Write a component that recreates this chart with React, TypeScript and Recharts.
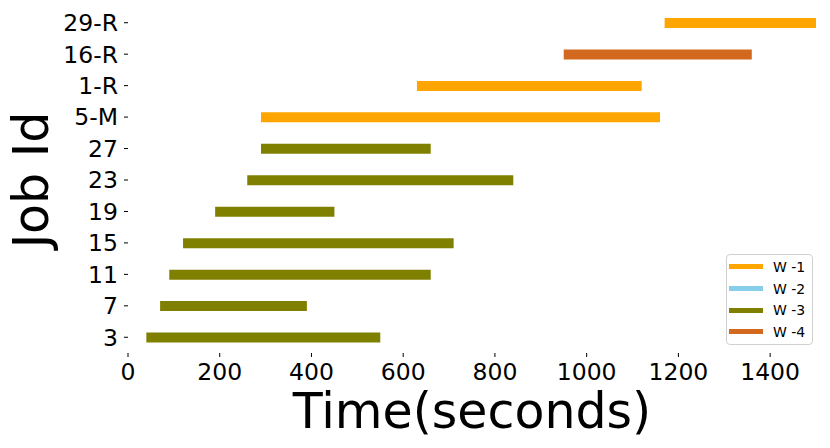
import { BarChart, Bar, XAxis, YAxis, Cell } from 'recharts';

const jobIds = ['29-R', '16-R', '1-R', '5-M', '27', '23', '19', '15', '11', '7', '3'];
const startTimes = [1170, 950, 630, 290, 290, 260, 190, 120, 90, 70, 40];
const endTimes = [1500, 1360, 1120, 1160, 660, 840, 450, 710, 660, 390, 550];
const jobWorker = [0, 3, 0, 0, 2, 2, 2, 2, 2, 2, 2];

const workerNames = ['W -1', 'W -2', 'W -3', 'W -4'];
const workerColors = ['#FFA500', '#87CEEB', '#808000', '#D2691E'];

const timeTicks = [0, 200, 400, 600, 800, 1000, 1200, 1400];

const font = 'DejaVu Sans, sans-serif';

const data = jobIds.map((id, i) => ({
  id,
  span: [startTimes[i], endTimes[i]],
  worker: jobWorker[i],
}));

// legend sits over the plot, like matplotlib's loc='lower right'
const LegendBox = () => (
  <div
    style={{
      position: 'absolute',
      left: 726,
      top: 254,
      width: 85,
      height: 89,
      border: '1px solid #d0d0d0',
      borderRadius: 4,
      background: 'rgba(255,255,255,0.8)',
      fontFamily: font,
      fontSize: 14,
    }}
  >
    {workerNames.map((name, i) => (
      <div
        key={name}
        style={{ display: 'flex', alignItems: 'center', height: 21.7, marginTop: i === 0 ? 1 : 0 }}
      >
        <div style={{ width: 34, height: 5, background: workerColors[i], marginLeft: 2, marginRight: 10 }} />
        <span style={{ color: '#000', lineHeight: '14px' }}>{name}</span>
      </div>
    ))}
  </div>
);

export default function App() {
  return (
    <div style={{ width: 830, height: 448, position: 'relative' }}>
      <style>{'body{margin:0}'}</style>
      <BarChart
        width={830}
        height={448}
        data={data}
        layout="vertical"
        margin={{ top: 7, right: 14, bottom: 0, left: 0 }}
        barCategoryGap={0}
      >
        <XAxis
          type="number"
          domain={[0, 1500]}
          ticks={timeTicks}
          allowDataOverflow
          axisLine={false}
          tickLine={{ stroke: '#000' }}
          tickSize={4}
          tickMargin={6}
          height={95}
          tick={{ fill: '#000', fontSize: 23.5, fontFamily: font }}
          label={(props: any) => {
            const vb = props.viewBox;
            return (
              <text
                x={vb.x + vb.width / 2}
                y={vb.y + 75}
                textAnchor="middle"
                fontSize={49}
                fontFamily={font}
                fill="#000"
              >
                Time(seconds)
              </text>
            );
          }}
        />
        <YAxis
          type="category"
          dataKey="id"
          width={128}
          axisLine={false}
          tickLine={{ stroke: '#000' }}
          tickSize={4}
          tickMargin={6}
          interval={0}
          tick={{ fill: '#000', fontSize: 23.5, fontFamily: font }}
          label={(props: any) => {
            const vb = props.viewBox;
            const cy = vb.y + vb.height / 2;
            return (
              <text
                x={48}
                y={cy}
                textAnchor="middle"
                fontSize={49}
                fontFamily={font}
                fill="#000"
                transform={`rotate(-90, 48, ${cy})`}
              >
                Job Id
              </text>
            );
          }}
        />
        <Bar dataKey="span" barSize={10} isAnimationActive={false}>
          {data.map((d) => (
            <Cell key={d.id} fill={workerColors[d.worker]} />
          ))}
        </Bar>
      </BarChart>
      <LegendBox />
    </div>
  );
}
